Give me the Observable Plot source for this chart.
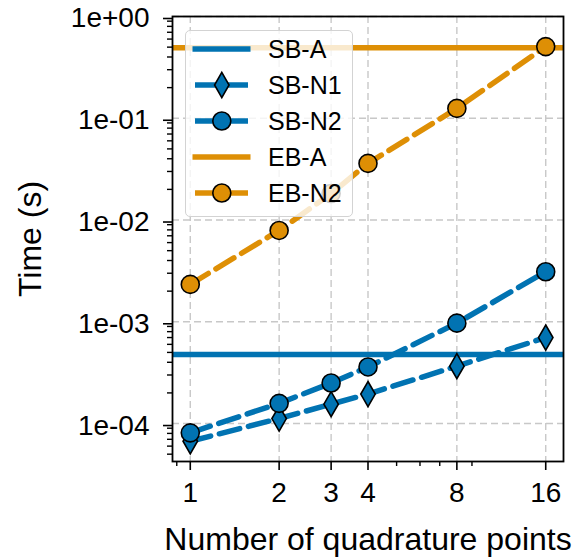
<!DOCTYPE html>
<html><head><meta charset="utf-8">
<script src="https://cdn.jsdelivr.net/npm/d3@7"></script>
<script src="https://cdn.jsdelivr.net/npm/@observablehq/plot@0.6"></script>
<style>
html,body{margin:0;padding:0;background:#fff;}
#wrap{position:relative;width:576px;height:559px;font-family:"Liberation Sans",Arial,sans-serif;}
#legend{position:absolute;left:185px;top:30px;width:168px;height:187px;background:rgba(255,255,255,0.8);border:1.5px solid #d3d3d3;border-radius:5px;box-sizing:border-box;}
.row{position:absolute;left:0;height:36px;width:160px;}
.row svg{position:absolute;left:0;top:0;}
.row span{position:absolute;left:82px;top:0;line-height:36px;font-size:25px;color:#000;white-space:nowrap;}
</style>
</head><body>
<div id="wrap"><div id="chart"></div><div id="legend"></div></div>
<script>
// ---- data ----
const quadPoints = [1, 2, 3, 4, 8, 16];
const sbN1 = [6.7e-5, 1.12e-4, 1.55e-4, 1.95e-4, 3.66e-4, 7.0e-4];
const sbN2 = [8.1e-5, 1.58e-4, 2.5e-4, 3.6e-4, 9.7e-4, 3.1e-3];
const ebN2 = [2.33e-3, 7.9e-3, 1.82e-2, 3.6e-2, 0.125, 0.506];
const sbA = 4.77e-4;
const ebA = 0.494;
const xTicks = [1, 2, 3, 4, 8, 16];
const xMinorTicks = [0.9, 5, 6, 7, 9];
const yTicks = [1e-4, 1e-3, 1e-2, 1e-1, 1];
const legendLabels = ["SB-A", "SB-N1", "SB-N2", "EB-A", "EB-N2"];

const blue = "#0173b2", orange = "#de8f05";
const yDomain = [Math.pow(10, -4.373), 1];
const xDomain = [Math.pow(2, -0.2), 16 * Math.pow(2, 0.2)];
const yMinorTicks = [];
for (let e = -5; e <= -1; e++) for (let m = 2; m <= 9; m++) {
  const v = m * Math.pow(10, e);
  if (v >= yDomain[0] && v <= yDomain[1]) yMinorTicks.push(v);
}
const rows = ys => quadPoints.map((q, i) => ({q, t: ys[i]}));
const fmtY = d => {
  const e = Math.round(Math.log10(d));
  return "1e" + (e < 0 ? "-" : "+") + String(Math.abs(e)).padStart(2, "0");
};
const dash = "21,9";
const lw = 5.5;
const font = "Liberation Sans, Arial, sans-serif";

const chart = Plot.plot({
  width: 576, height: 559,
  marginLeft: 172, marginRight: 13, marginTop: 16, marginBottom: 98,
  x: {type: "log", domain: xDomain},
  y: {type: "log", domain: yDomain},
  style: {fontFamily: font, fontSize: "28px", color: "#000", background: "#fff", overflow: "visible"},
  marks: [
    Plot.gridX({ticks: xTicks, stroke: "#c8c8c8", strokeOpacity: 1, strokeDasharray: "7,4", strokeWidth: 1.4}),
    Plot.gridY({ticks: yTicks, stroke: "#c8c8c8", strokeOpacity: 1, strokeDasharray: "7,4", strokeWidth: 1.4}),
    Plot.axisX({ticks: xMinorTicks, tickSize: 5, strokeWidth: 1.4, tickFormat: () => "", label: null}),
    Plot.axisY({ticks: yMinorTicks, tickSize: 5, strokeWidth: 1.4, tickFormat: () => "", label: null}),
    Plot.axisX({ticks: xTicks, tickSize: 9, tickPadding: 12, strokeWidth: 1.6, fontSize: 28, tickFormat: d => String(d), label: null}),
    Plot.axisY({ticks: yTicks, tickSize: 9, tickPadding: 14, strokeWidth: 1.6, fontSize: 28, dy: 2, tickFormat: fmtY, label: null}),
    Plot.text(["Number of quadrature points"], {text: d => d, frameAnchor: "bottom", textAnchor: "middle", lineAnchor: "middle", dy: 78, fontSize: 32}),
    Plot.text(["Time (s)"], {text: d => d, frameAnchor: "left", textAnchor: "middle", lineAnchor: "middle", dx: -142, rotate: -90, fontSize: 32}),
    Plot.ruleY([sbA], {stroke: blue, strokeWidth: lw}),
    Plot.line(rows(sbN1), {x: "q", y: "t", stroke: blue, strokeWidth: lw, strokeDasharray: dash}),
    Plot.dot(rows(sbN1), {x: "q", y: "t", symbol: "diamond", r: 7.6, fill: blue, stroke: "#000", strokeWidth: 1.6}),
    Plot.line(rows(sbN2), {x: "q", y: "t", stroke: blue, strokeWidth: lw, strokeDasharray: dash}),
    Plot.dot(rows(sbN2), {x: "q", y: "t", symbol: "circle", r: 9, fill: blue, stroke: "#000", strokeWidth: 1.6}),
    Plot.ruleY([ebA], {stroke: orange, strokeWidth: lw}),
    Plot.line(rows(ebN2), {x: "q", y: "t", stroke: orange, strokeWidth: lw, strokeDasharray: dash}),
    Plot.dot(rows(ebN2), {x: "q", y: "t", symbol: "circle", r: 9, fill: orange, stroke: "#000", strokeWidth: 1.6}),
    Plot.frame({stroke: "#000", strokeWidth: 1.8})
  ]
});
document.getElementById("chart").appendChild(chart);

// ---- legend ----
const legendSpec = [
  {label: legendLabels[0], color: blue, symbol: null},
  {label: legendLabels[1], color: blue, symbol: d3.symbolDiamond},
  {label: legendLabels[2], color: blue, symbol: d3.symbolCircle},
  {label: legendLabels[3], color: orange, symbol: null},
  {label: legendLabels[4], color: orange, symbol: d3.symbolCircle}
];
const legend = d3.select("#legend");
legendSpec.forEach((s, i) => {
  const row = legend.append("div").attr("class", "row").style("top", (i * 36) + "px");
  const svg = row.append("svg").attr("width", 80).attr("height", 36);
  if (s.symbol) {
    svg.append("line").attr("x1", 9).attr("x2", 62).attr("y1", 18).attr("y2", 18)
      .attr("stroke", s.color).attr("stroke-width", lw);
    const size = s.symbol === d3.symbolDiamond ? Math.PI * 7.6 * 7.6 : Math.PI * 9 * 9;
    svg.append("path").attr("d", d3.symbol(s.symbol, size)())
      .attr("transform", "translate(35.8,18)")
      .attr("fill", s.color).attr("stroke", "#000").attr("stroke-width", 1.6);
  } else {
    svg.append("line").attr("x1", 6.5).attr("x2", 64.5).attr("y1", 18).attr("y2", 18)
      .attr("stroke", s.color).attr("stroke-width", lw);
  }
  row.append("span").text(s.label);
});
</script>
</body></html>
